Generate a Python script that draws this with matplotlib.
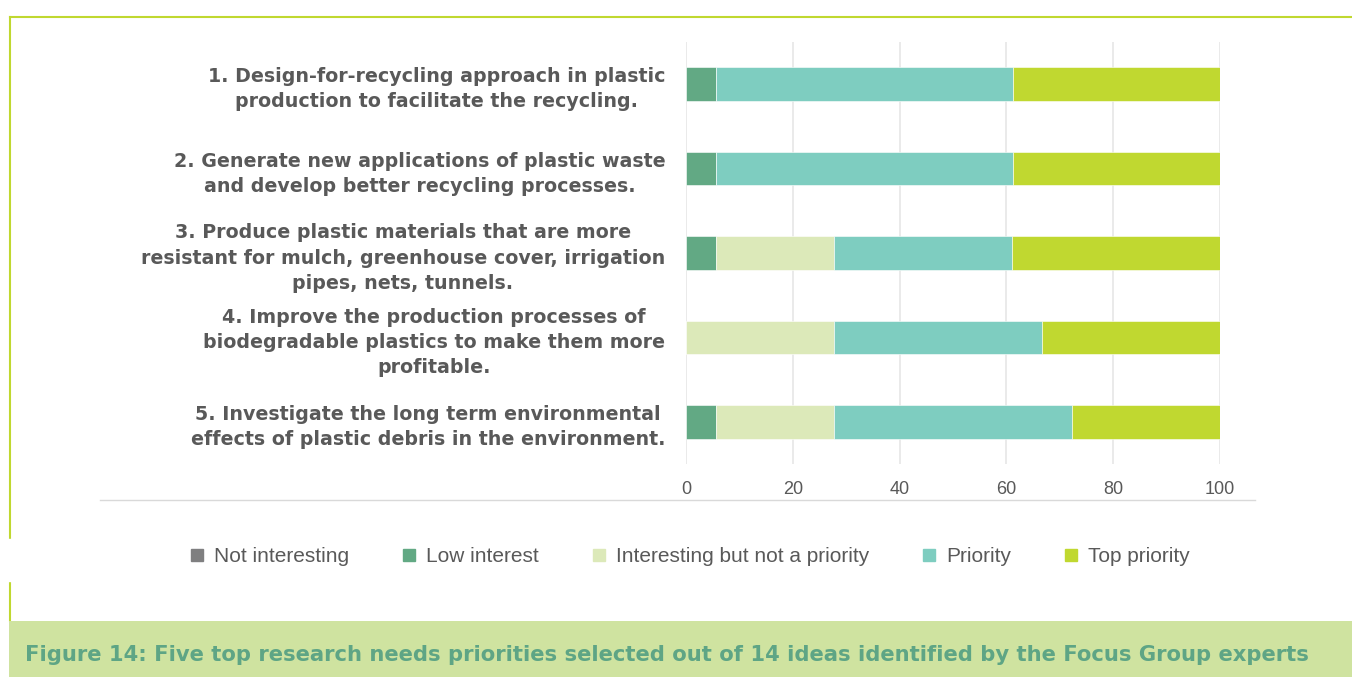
import numpy as np
import matplotlib as mpl
mpl.use('Agg')
import matplotlib.pyplot as plt
from matplotlib.patches import Rectangle
from matplotlib.lines import Line2D

# ---- data (percent of experts) ----
ideas = ['1. Design-for-recycling approach in plastic\nproduction to facilitate the recycling.',
         '2. Generate new applications of plastic waste\nand develop better recycling processes.',
         '3. Produce plastic materials that are more\nresistant for mulch, greenhouse cover, irrigation\npipes, nets, tunnels.',
         '4. Improve the production processes of\nbiodegradable plastics to make them more\nprofitable.',
         '5. Investigate the long term environmental\neffects of plastic debris in the environment.']
not_interesting = [0.0, 0.0, 0.0, 0.0, 0.0]
low_interest = [5.6, 5.6, 5.6, 0.0, 5.6]
interesting = [0.0, 0.0, 22.2, 27.8, 22.2]
priority = [55.6, 55.6, 33.3, 38.9, 44.4]
top_priority = [38.9, 38.9, 38.9, 33.3, 27.8]

series_names = ['Not interesting', 'Low interest', 'Interesting but not a priority',
                'Priority', 'Top priority']
series_colors = ['#7f7f80', '#62a984', '#dce9b9', '#7ecdc0', '#c0d830']
xticks = [0, 20, 40, 60, 80, 100]
caption = ('Figure 14: Five top research needs priorities selected out of 14 '
           'ideas identified by the Focus Group experts')

GREEN = '#c0d830'
TXT = '#595959'
NARROW = ['Liberation Sans', 'DejaVu Sans']

fig = plt.figure(figsize=(13.52, 6.77), dpi=100)
W, H = 1352., 677.

# frame / decorations
fig.add_artist(Line2D([10/W, 1.0], [1-17/H, 1-17/H], color=GREEN, lw=1.5))
fig.add_artist(Line2D([10/W, 10/W], [1-17/H, 1-621/H], color=GREEN, lw=1.5))
fig.add_artist(Rectangle((7/W, 1-581/H), 1300/W, 42/H, color='white', zorder=2))
fig.add_artist(Rectangle((9/W, 0), 1-9/W, 56/H, color='#cfe3a0', lw=0, zorder=3))
fig.add_artist(Line2D([100/W, 1255/W], [1-500/H, 1-500/H], color='#d9d9d9', lw=1))
fig.text(25/W, 1-655/H, caption, color='#5ea585', fontsize=15.2, fontweight='bold',
         va='center', ha='left', zorder=4)

ax = fig.add_axes([686/W, 1-464/H, 534/W, 422/H])
y = np.arange(len(ideas))
series = [not_interesting, low_interest, interesting, priority, top_priority]
left = np.zeros(len(ideas))
handles = []
for vals, name, col in zip(series, series_names, series_colors):
    vals = np.array(vals)
    ax.barh(y, vals, left=left, height=0.4, color=col, edgecolor='white',
            linewidth=0.4, zorder=2)
    left += vals
    handles.append(Line2D([], [], marker='s', ls='', color=col, markersize=8, label=name))

ax.set_xlim(0, 100)
ax.set_ylim(len(ideas) - 0.5, -0.5)
ax.set_xticks(xticks)
ax.set_xticklabels([str(v) for v in xticks], color=TXT, fontsize=13, family=NARROW)
ax.set_yticks(y)
ax.set_yticklabels(ideas, fontsize=13.7, fontweight='bold', color=TXT, linespacing=1.42)
for t in ax.get_yticklabels():
    t.set_multialignment('center')
ax.tick_params(axis='both', length=0)
ax.tick_params(axis='y', pad=15)
ax.tick_params(axis='x', pad=12)
ax.grid(axis='x', color='#e6e6e6', lw=1.2, zorder=0)
for s in ax.spines.values():
    s.set_visible(False)

fig.legend(handles=handles, loc='center', bbox_to_anchor=(683/W, 1-557/H), ncol=5,
           frameon=False, handletextpad=-0.2, columnspacing=1.9,
           prop={'family': NARROW, 'size': 15}, labelcolor=TXT)

plt.savefig('out.png', dpi=100)
plt.close()
